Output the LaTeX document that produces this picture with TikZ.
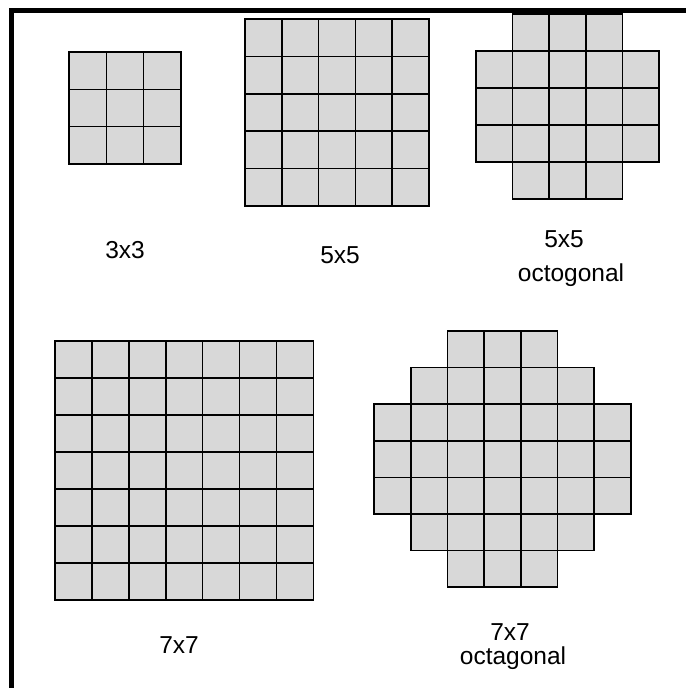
\documentclass[tikz,border=0pt]{standalone}
\usepackage{fontspec}
\setmainfont{Liberation Sans}
\definecolor{cellgray}{HTML}{D8D8D8}
\tikzset{
  cell/.style={draw=black,fill=cellgray,line width=1.6pt,line join=miter},
  frameline/.style={draw=black,line width=5pt},
  caption/.style={font=\fontsize{24.5}{28}\selectfont,anchor=base,inner sep=0pt}
}

\begin{document}
\begin{tikzpicture}[x=1pt,y=-1pt]
  \useasboundingbox (0,0) rectangle (686,688);

  % frame (top and left only)
  \coordinate (ftl) at (11.5,10.5);
  \coordinate (ftr) at (686,10.5);
  \coordinate (fbl) at (11.5,688);
  \draw[frameline] (fbl)--(ftl)--(ftr);

  % 3x3
  \begin{scope}[shift={(69,52)},x=37.3pt,y=-37.3pt]
    \foreach \r in {0,...,2}
      \foreach \c in {0,...,2}
        \draw[cell] (\c,\r) rectangle ++(1,1);
  \end{scope}

  % 5x5
  \begin{scope}[shift={(245,19)},x=36.8pt,y=-37.4pt]
    \foreach \r in {0,...,4}
      \foreach \c in {0,...,4}
        \draw[cell] (\c,\r) rectangle ++(1,1);
  \end{scope}

  % 5x5 octogonal
  \begin{scope}[shift={(476,14)},x=36.6pt,y=-37pt]
    \foreach \r/\o/\n in {0/1/3,1/0/5,2/0/5,3/0/5,4/1/3}
      \foreach \c in {1,...,\n}
        \draw[cell] (\o+\c-1,\r) rectangle ++(1,1);
  \end{scope}

  % 7x7
  \begin{scope}[shift={(55,341)},x=36.9pt,y=-37pt]
    \foreach \r in {0,...,6}
      \foreach \c in {0,...,6}
        \draw[cell] (\c,\r) rectangle ++(1,1);
  \end{scope}

  % 7x7 octagonal
  \begin{scope}[shift={(374,331)},x=36.7pt,y=-36.6pt]
    \foreach \r/\o/\n in {0/2/3,1/1/5,2/0/7,3/0/7,4/0/7,5/1/5,6/2/3}
      \foreach \c in {1,...,\n}
        \draw[cell] (\o+\c-1,\r) rectangle ++(1,1);
  \end{scope}

  % captions
  \node[caption] (lab3) at (125,258) {3x3};
  \node[caption] (lab5) at (340,263) {5x5};
  \node[caption] (lab5o) at (564,247) {5x5};
  \node[caption] (lab5oa) at (571,281) {octogonal};
  \node[caption] (lab7) at (179,653) {7x7};
  \node[caption] (lab7o) at (510,640) {7x7};
  \node[caption] (lab7oa) at (513,664) {octagonal};
\end{tikzpicture}
\end{document}
